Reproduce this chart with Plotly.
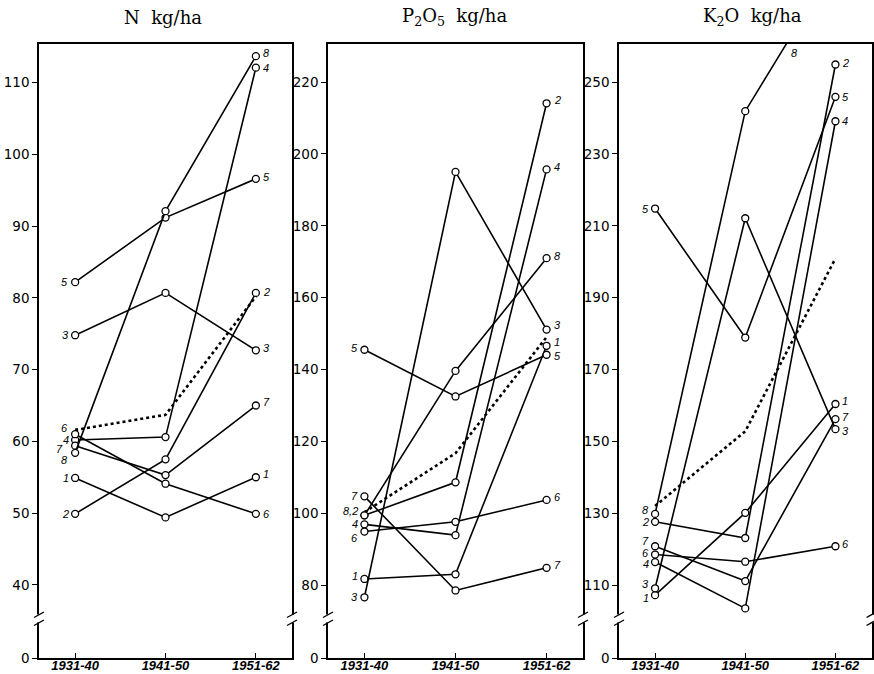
import plotly.graph_objects as go

# ---------------- data ----------------
periods = ["1931-40", "1941-50", "1951-62"]
farm_ids = ["1", "2", "3", "4", "5", "6", "7", "8"]

# rows = farms 1..8, columns = periods
N_kg = [
    [54.9, 49.4, 55.0],
    [49.9, 57.5, 80.7],
    [74.8, 80.7, 72.7],
    [60.2, 60.6, 112.1],
    [82.2, 91.2, 96.6],
    [61.0, 54.1, 49.9],
    [59.4, 55.3, 65.0],
    [58.4, 92.1, 113.7],
]
N_mean = [61.6, 63.7, 80.2]

P2O5_kg = [
    [81.7, 83.0, 146.6],
    [99.4, 108.6, 214.1],
    [76.6, 195.0, 151.1],
    [96.9, 93.9, 195.7],
    [145.5, 132.5, 144.1],
    [94.9, 97.6, 103.7],
    [104.7, 78.5, 84.8],
    [99.4, 139.6, 171.0],
]
P2O5_mean = [100.3, 116.7, 149.0]

K2O_kg = [
    [107.2, 130.1, 160.4],
    [127.6, 123.1, 254.9],
    [109.1, 212.1, 153.4],
    [116.4, 103.5, 239.1],
    [214.8, 178.9, 245.9],
    [118.5, 116.5, 120.8],
    [120.8, 111.1, 156.2],
    [129.8, 241.9, 283.0],
]
K2O_mean = [132.0, 152.8, 200.9]

titles = ["N\u00a0\u00a0kg/ha", "P<sub>2</sub>O<sub>5</sub>\u00a0\u00a0kg/ha", "K<sub>2</sub>O\u00a0\u00a0kg/ha"]
N_ticks = [40, 50, 60, 70, 80, 90, 100, 110]
P2O5_ticks = [80, 100, 120, 140, 160, 180, 200, 220]
K2O_ticks = [110, 130, 150, 170, 190, 210, 230, 250]
break_label = "0"

# left-side label text (P2O5: farms 8 and 2 share one label)
N_left_text = farm_ids
P2O5_left_text = ["1", "", "3", "4", "5", "6", "7", "8,2"]
K2O_left_text = farm_ids

# ---------------- style / layout ----------------
W, H = 874, 674
top_px, bot_px = 44, 658
panel_px = [(39, 292), (328, 583), (619, 871.5)]
title_px = [163, 454, 752]
y_ranges = [[29.8, 115.4], [59.7, 230.6], [89.7, 260.6]]

left_dy = [
    [0, 0, 0, 0, 0, 6, -3, -7],
    [3, 0, 0, 0, 2, -6, 0, 4],
    [-3, 0, 4, -2, 0, 2, 5, 4],
]
left_dx = [
    [-4, -4, -4, -4, -5, -5, -10, -5],
    [-4] * 8,
    [-4] * 8,
]
right_dy = [
    [3, 1, 2, 0, 2, 0, 4, 3],
    [4, 3, 5, 2, -1, 3, 3, 2],
    [3, 1, -2, 0, 0, 2, 2, 0],
]

panels = [
    (N_kg, N_mean, N_ticks, N_left_text),
    (P2O5_kg, P2O5_mean, P2O5_ticks, P2O5_left_text),
    (K2O_kg, K2O_mean, K2O_ticks, K2O_left_text),
]

lab_font = dict(family="Liberation Sans", size=11, color="black", style="italic")
xs = [0, 1, 2]

fig = go.Figure()
annotations = []
shapes = []

for i, (data, mean, ticks, ltext) in enumerate(panels):
    sfx = "" if i == 0 else str(i + 1)
    xref, yref = "x" + sfx, "y" + sfx
    yr = y_ranges[i]

    # mean (dotted)
    fig.add_trace(go.Scatter(
        x=xs, y=mean, mode="lines", xaxis=xref, yaxis=yref,
        line=dict(color="black", width=2.6, dash="dot"), showlegend=False,
        hoverinfo="skip"))
    for f, vals in enumerate(data):
        fig.add_trace(go.Scatter(
            x=xs, y=vals, mode="lines+markers", xaxis=xref, yaxis=yref,
            line=dict(color="black", width=1.6),
            marker=dict(symbol="circle", size=7, color="white",
                        line=dict(color="black", width=1.3)),
            showlegend=False, name=farm_ids[f]))

        # left label
        if ltext[f]:
            annotations.append(dict(
                x=xs[0], y=vals[0], xref=xref, yref=yref, text=ltext[f],
                showarrow=False, xanchor="right", yanchor="middle",
                xshift=left_dx[i][f], yshift=left_dy[i][f], font=lab_font))
        # right label
        if vals[2] <= yr[1]:
            annotations.append(dict(
                x=xs[2], y=vals[2], xref=xref, yref=yref, text=farm_ids[f],
                showarrow=False, xanchor="left", yanchor="middle",
                xshift=5, yshift=right_dy[i][f], font=lab_font))
        else:
            # line leaves the frame at the top: label where it exits
            x_exit = xs[1] + (yr[1] - vals[1]) / (vals[2] - vals[1]) * (xs[2] - xs[1])
            annotations.append(dict(
                x=x_exit, y=yr[1], xref=xref, yref=yref, text=farm_ids[f],
                showarrow=False, xanchor="left", yanchor="middle",
                xshift=3, yshift=-9, font=lab_font))

    x0, x1 = panel_px[i]
    fig.layout["xaxis" + sfx] = dict(
        domain=[x0 / W, x1 / W], anchor=yref, range=[-0.4, 2.4],
        tickmode="array", tickvals=xs, ticktext=periods,
        ticks="inside", ticklen=5, tickwidth=1.3, tickcolor="black",
        ticklabelstandoff=-5,
        showline=True, linecolor="black", linewidth=1.6, mirror=True,
        showgrid=False, zeroline=False, automargin=False, fixedrange=True,
        tickfont=dict(family="Liberation Sans", size=13, color="black",
                      style="italic", weight="bold"))
    fig.layout["yaxis" + sfx] = dict(
        domain=[1 - bot_px / H, 1 - top_px / H], anchor=xref, range=yr,
        tickmode="array", tickvals=[yr[0]] + ticks,
        ticktext=[break_label] + [str(t) for t in ticks],
        ticks="outside", ticklen=5, tickwidth=1.3, tickcolor="black",
        showline=True, linecolor="black", linewidth=1.6, mirror=True,
        showgrid=False, zeroline=False, automargin=False, fixedrange=True,
        tickfont=dict(family="DejaVu Sans", size=13.5, color="black"))

    # title
    annotations.append(dict(
        x=title_px[i] / W, y=1 - 17 / H, xref="paper", yref="paper",
        text=titles[i], showarrow=False, xanchor="center", yanchor="middle",
        font=dict(family="DejaVu Serif", size=18, color="black")))

    # axis break marks on left and right spines
    pw = x1 - x0
    ph = bot_px - top_px
    def fy(px):
        return (bot_px - px) / ph
    for side in (0.0, 1.0):
        shapes.append(dict(
            type="rect", xref=xref + " domain", yref=yref + " domain",
            x0=side - 3 / pw, x1=side + 3 / pw, y0=fy(622.5), y1=fy(614.5),
            fillcolor="white", line=dict(width=0), layer="above"))
        for (ya, yb) in ((617.5, 612.0), (625.5, 620.0)):
            shapes.append(dict(
                type="line", xref=xref + " domain", yref=yref + " domain",
                x0=side - 5 / pw, x1=side + 5 / pw, y0=fy(ya), y1=fy(yb),
                line=dict(color="black", width=1.4), layer="above"))

fig.update_layout(
    width=W, height=H, template="none",
    margin=dict(l=0, r=0, t=0, b=0),
    paper_bgcolor="white", plot_bgcolor="white",
    annotations=annotations, shapes=shapes, showlegend=False,
)

fig.write_html("out.html")
